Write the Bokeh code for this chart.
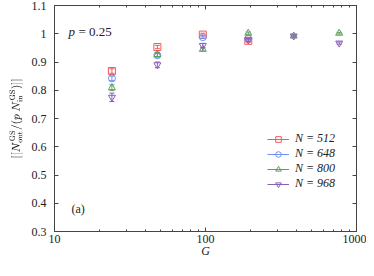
from bokeh.plotting import figure
from bokeh.models import (LogAxis, LinearAxis, Legend, LegendItem, Label, FixedTicker,
                          Range1d, ColumnDataSource, CustomJSTickFormatter)
from bokeh.embed import file_html
from bokeh.resources import INLINE

G = [24, 48, 96, 192, 384, 768]
series_names = ["N = 512", "N = 648", "N = 800", "N = 968"]
y512 = [0.868, 0.953, 0.997, 0.975]
e512 = [0.008, 0.006, 0.005, 0.005]
y648 = [0.842, 0.924, 0.988, 0.982]
e648 = [0.008, 0.006, 0.005, 0.004]
y800 = [0.809, 0.926, 0.945, 1.002, 0.992, 1.002]
e800 = [0.010, 0.008, 0.006, 0.004, 0.003, 0.003]
y968 = [0.775, 0.890, 0.958, 0.978, 0.992, 0.967]
e968 = [0.015, 0.010, 0.008, 0.005, 0.004, 0.004]
x_ticks = [10, 100, 1000]
x_tick_labels = ["10", "100", "1000"]
x_minor = [20, 30, 40, 50, 60, 70, 80, 90, 200, 300, 400, 500, 600, 700, 800, 900]
y_ticks = [0.3, 0.4, 0.5, 0.6, 0.7, 0.8, 0.9, 1.0, 1.1]
y_tick_labels = ["0.3", "0.4", "0.5", "0.6", "0.7", "0.8", "0.9", "1", "1.1"]

colors = ["#f05a5a", "#6f8ff0", "#5e9e5e", "#8a5fbb"]
markers = ["square", "circle", "triangle", "inverted_triangle"]
data = [(y512, e512), (y648, e648), (y800, e800), (y968, e968)]

FONT = "Liberation Serif"
AX = "#444444"
TXT = "#222222"

p = figure(width=366, height=260, x_axis_type="log",
           x_range=Range1d(10, 1000), y_range=Range1d(0.3, 1.1),
           output_backend="svg", toolbar_location=None,
           min_border_left=54, min_border_right=10, min_border_top=5,
           min_border_bottom=0)
p.background_fill_color = "white"
p.border_fill_color = "white"
p.outline_line_color = AX
p.outline_line_width = 1
p.grid.visible = False

for ax in [p.xaxis[0], p.yaxis[0]]:
    ax.major_tick_in = 4
    ax.major_tick_out = 0
    ax.minor_tick_in = 2
    ax.minor_tick_out = 0
    ax.axis_line_color = AX
    ax.major_tick_line_color = AX
    ax.minor_tick_line_color = AX
    ax.major_label_text_font = FONT
    ax.major_label_text_font_size = "12px"
    ax.major_label_text_color = TXT
    ax.axis_label_text_font = FONT
    ax.axis_label_text_color = TXT

p.yaxis.ticker = FixedTicker(ticks=y_ticks)
p.yaxis.major_label_overrides = {t: l for t, l in zip(y_ticks, y_tick_labels)}
p.yaxis.minor_tick_line_color = None
p.yaxis.major_label_standoff = 8
p.xaxis.ticker = FixedTicker(ticks=x_ticks, minor_ticks=x_minor)
p.xaxis.major_label_overrides = {t: l for t, l in zip(x_ticks, x_tick_labels)}
p.xaxis.major_label_standoff = 3

p.xaxis.axis_label = "G"
p.xaxis.axis_label_text_font_style = "italic"
p.xaxis.axis_label_text_font_size = "12px"
p.xaxis.axis_label_standoff = -2
p.yaxis.axis_label = r"$$[[N_{\rm out}^{\rm GS}/(p\ N_{\rm in}^{\rm GS})]]$$"
p.yaxis.axis_label_text_font_size = "11px"
p.yaxis.axis_label_standoff = 6

blank = CustomJSTickFormatter(code="return ''")
top = LogAxis(ticker=FixedTicker(ticks=x_ticks, minor_ticks=x_minor), formatter=blank,
              major_tick_in=4, major_tick_out=0, minor_tick_in=2, minor_tick_out=0,
              axis_line_color=AX, major_tick_line_color=AX,
              minor_tick_line_color=AX, major_label_standoff=0)
p.add_layout(top, "above")
right = LinearAxis(ticker=FixedTicker(ticks=y_ticks), formatter=blank,
                   major_tick_in=4, major_tick_out=0, minor_tick_line_color=None,
                   axis_line_color=AX, major_tick_line_color=AX,
                   major_label_standoff=0)
p.add_layout(right, "right")

items = []
for name, (ys, es), c, m in zip(series_names, data, colors, markers):
    xs = G[:len(ys)]
    src = ColumnDataSource(dict(x=xs, y=ys,
                                lo=[y - e for y, e in zip(ys, es)],
                                hi=[y + e for y, e in zip(ys, es)]))
    seg = p.segment(x0="x", y0="lo", x1="x", y1="hi", source=src,
                    line_color=c, line_width=1)
    p.scatter(x="x", y="lo", source=src, marker="dash", size=5,
              line_color=c, line_width=1)
    p.scatter(x="x", y="hi", source=src, marker="dash", size=5,
              line_color=c, line_width=1)
    sc = p.scatter(x="x", y="y", source=src, marker=m, size=7,
                   fill_color=None, line_color=c, line_width=1)
    items.append(LegendItem(label=name, renderers=[seg, sc]))

legend = Legend(items=items, location=(213, 40),
                label_text_font=FONT, label_text_font_size="12px",
                label_text_color=TXT, border_line_color=None,
                background_fill_alpha=0, spacing=0, glyph_width=22,
                glyph_height=14, label_height=14, margin=0, padding=4,
                label_standoff=6, label_text_font_style="italic")
p.add_layout(legend)

p.add_layout(Label(x=14, y=193, x_units="screen", y_units="screen",
                   text="p", text_font=FONT, text_font_size="13px",
                   text_color=TXT, text_font_style="italic"))
p.add_layout(Label(x=24, y=193, x_units="screen", y_units="screen",
                   text="= 0.25", text_font=FONT, text_font_size="13px",
                   text_color=TXT))
p.add_layout(Label(x=17, y=16, x_units="screen", y_units="screen",
                   text="(a)", text_font=FONT, text_font_size="12px",
                   text_color=TXT))

open("out.html", "w").write(file_html(p, INLINE))
